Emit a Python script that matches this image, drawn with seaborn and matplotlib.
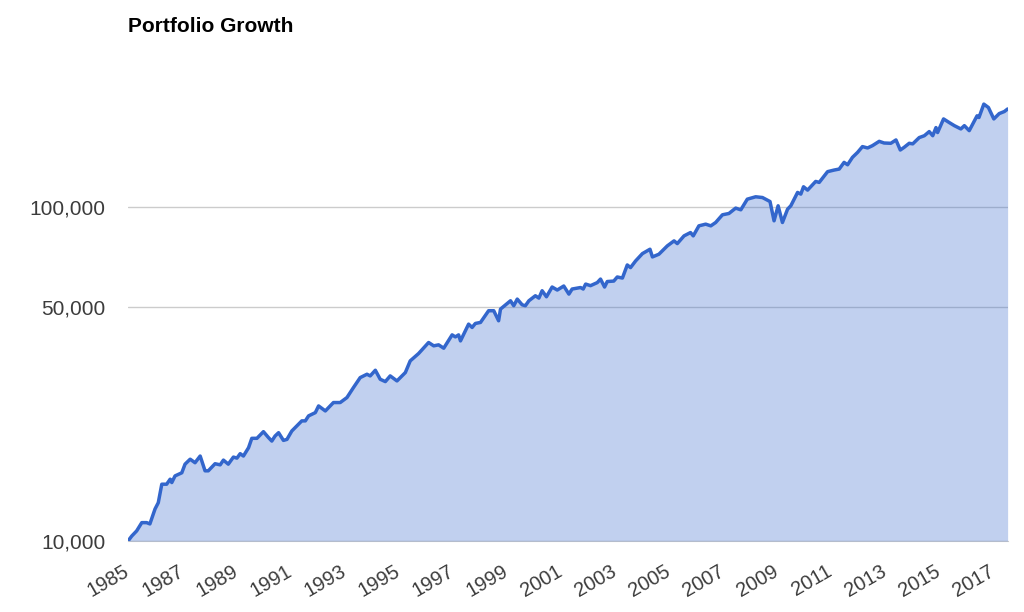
import numpy as np
import pandas as pd
import seaborn as sns
import matplotlib.pyplot as plt
import matplotlib.transforms as mtransforms
from matplotlib.ticker import FixedLocator, FuncFormatter, NullLocator

# Dados (ano decimal, valor da carteira)
years = [
    1985.00, 1985.14, 1985.32, 1985.51, 1985.69, 1985.81, 1986.00, 1986.12, 1986.25, 1986.43,
    1986.56, 1986.62, 1986.74, 1986.99, 1987.11, 1987.30, 1987.48, 1987.67, 1987.85, 1987.97,
    1988.22, 1988.41, 1988.53, 1988.71, 1988.90, 1989.03, 1989.15, 1989.27, 1989.46, 1989.58,
    1989.77, 1990.01, 1990.20, 1990.32, 1990.44, 1990.57, 1990.75, 1990.88, 1991.06, 1991.43,
    1991.56, 1991.68, 1991.93, 1992.05, 1992.30, 1992.60, 1992.85, 1993.10, 1993.34, 1993.59,
    1993.84, 1993.96, 1994.15, 1994.33, 1994.52, 1994.70, 1994.95, 1995.26, 1995.44, 1995.75,
    1996.12, 1996.31, 1996.49, 1996.68, 1996.99, 1997.11, 1997.23, 1997.30, 1997.60, 1997.73,
    1997.85, 1998.04, 1998.34, 1998.53, 1998.71, 1998.78, 1999.15, 1999.27, 1999.40, 1999.58,
    1999.70, 1999.83, 2000.07, 2000.20, 2000.32, 2000.48, 2000.69, 2000.88, 2001.12, 2001.31,
    2001.43, 2001.74, 2001.84, 2001.93, 2002.11, 2002.36, 2002.48, 2002.63, 2002.73, 2002.97,
    2003.10, 2003.29, 2003.47, 2003.59, 2003.78, 2004.03, 2004.31, 2004.40, 2004.64, 2004.95,
    2005.20, 2005.32, 2005.57, 2005.81, 2005.91, 2006.12, 2006.37, 2006.56, 2006.74, 2006.99,
    2007.23, 2007.48, 2007.67, 2007.91, 2008.22, 2008.47, 2008.75, 2008.90, 2009.05, 2009.21,
    2009.40, 2009.52, 2009.77, 2009.89, 2009.99, 2010.14, 2010.44, 2010.57, 2010.88, 2011.12,
    2011.31, 2011.49, 2011.62, 2011.80, 2011.99, 2012.17, 2012.36, 2012.54, 2012.79, 2012.97,
    2013.22, 2013.41, 2013.57, 2013.71, 2013.90, 2014.03, 2014.27, 2014.46, 2014.64, 2014.77,
    2014.89, 2014.95, 2015.17, 2015.38, 2015.57, 2015.81, 2015.94, 2016.12, 2016.41, 2016.48,
    2016.66, 2016.83, 2017.03, 2017.23, 2017.42, 2017.54,
]
values = [
    10000, 10350, 10720, 11350, 11350, 11250, 12470, 13020, 14790, 14790,
    15310, 14960, 15660, 16000, 16980, 17570, 17150, 17960, 16220, 16220,
    17030, 16900, 17460, 16980, 17830, 17700, 18250, 17960, 19020, 20290,
    20290, 21240, 20380, 19910, 20610, 21090, 20000, 20140, 21340, 22880,
    22880, 23680, 24220, 25360, 24500, 25960, 25960, 26870, 28780, 30830,
    31550, 31190, 32430, 30480, 29990, 31190, 30130, 31920, 34590, 36390,
    39260, 38370, 38630, 37750, 41380, 40810, 41380, 39700, 44560, 43550,
    44770, 45080, 48870, 48870, 45600, 49430, 52340, 50580, 52950, 50910,
    50580, 52340, 54180, 53310, 56090, 53800, 57540, 56360, 57940, 54800,
    56750, 57340, 56750, 58720, 58080, 59320, 60780, 57540, 59760, 59950,
    61660, 61200, 66990, 65780, 68900, 72440, 74650, 70800, 72130, 76380,
    79080, 77620, 81850, 83750, 81850, 87700, 88730, 87700, 89750, 94640,
    95500, 99100, 97950, 105400, 107150, 106600, 103700, 90800, 100700, 89750,
    98400, 100700, 110400, 109150, 114800, 112200, 119100, 118300, 127400, 128800,
    129700, 135800, 133600, 140600, 145500, 151400, 150000, 152400, 157000, 155200,
    154900, 158500, 147900, 150600, 154900, 154300, 161100, 163200, 167900, 163200,
    172600, 166800, 183200, 178700, 174900, 171000, 174900, 169000, 187200, 185000,
    202900, 198200, 183200, 190100, 192800, 196200,
]
year_ticks = list(range(1985, 2018, 2))
value_ticks = [10000, 50000, 100000]

df = pd.DataFrame({"year": years, "value": values})

sns.set_style("white")
plt.rcParams["font.family"] = ["Liberation Sans", "DejaVu Sans"]

fig = plt.figure(figsize=(10.24, 6.12), dpi=100)
ax = fig.add_axes([0.125, 0.116, 0.859, 0.786])

ax.fill_between(df["year"], 10000, df["value"], color="#3366CC", alpha=0.3,
                linewidth=0, zorder=2)
sns.lineplot(data=df, x="year", y="value", ax=ax, color="#3366CC",
             linewidth=2.5, zorder=3)

ax.set_yscale("log")
ax.set_ylim(10000, 275000)
ax.set_xlim(1985.0, 2017.54)

ax.yaxis.set_major_locator(FixedLocator(value_ticks))
ax.yaxis.set_minor_locator(NullLocator())
ax.yaxis.set_major_formatter(FuncFormatter(lambda v, p: f"{int(v):,}"))
ax.set_xticks(year_ticks)
ax.set_xticklabels([str(y) for y in year_ticks], rotation=30, ha="right",
                   rotation_mode="anchor", va="center")
# pequeno deslocamento para a direita, como no original
shift = mtransforms.ScaledTranslation(3 / 100, 0, fig.dpi_scale_trans)
for lbl in ax.get_xticklabels():
    lbl.set_transform(lbl.get_transform() + shift)

ax.grid(axis="y", color="#cccccc", linewidth=1)
ax.set_axisbelow(True)
ax.tick_params(axis="y", length=0, pad=16, labelsize=15, labelcolor="#3c3c3c")
ax.tick_params(axis="x", length=0, pad=21, labelsize=14.5, labelcolor="#3c3c3c")

for s in ["top", "right", "left"]:
    ax.spines[s].set_visible(False)
ax.spines["bottom"].set_color("#cccccc")
ax.spines["bottom"].set_zorder(1)

ax.set_xlabel("")
ax.set_ylabel("")
fig.text(0.125, 1 - 26 / 612, "Portfolio Growth", fontsize=15, fontweight="bold",
         color="black", ha="left", va="center")

fig.savefig("out.png", dpi=100)
